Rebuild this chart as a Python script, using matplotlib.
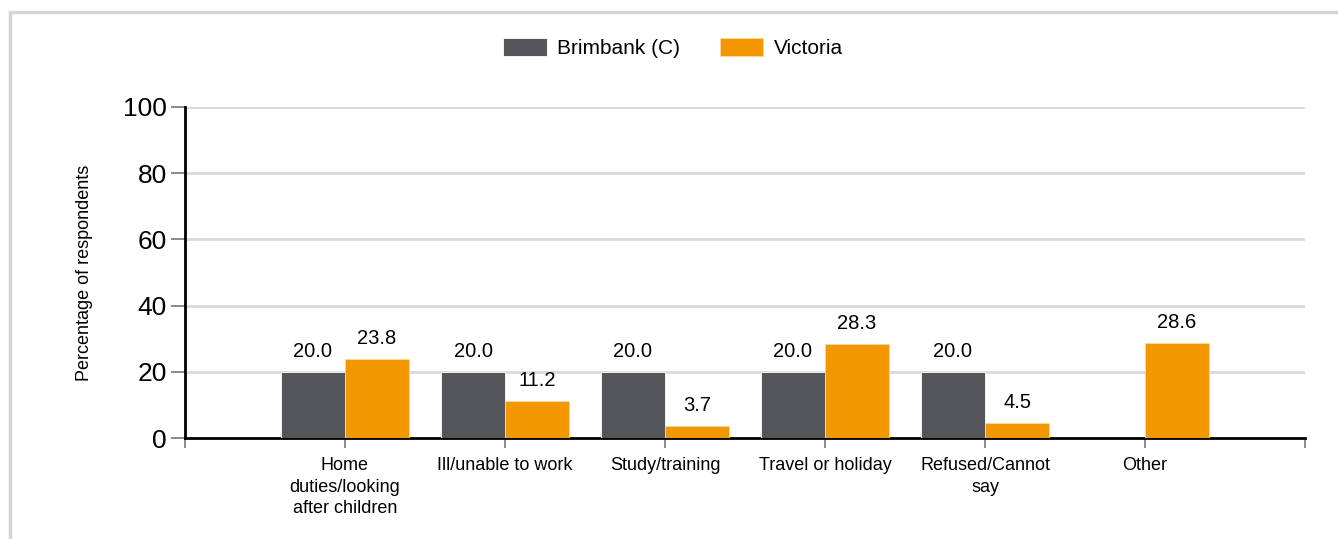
import matplotlib.pyplot as plt
from matplotlib.patches import Rectangle
import numpy as np

plt.rcParams['font.family'] = ['Liberation Sans', 'DejaVu Sans']

# Data
categories = ['Home\nduties/looking\nafter children', 'Ill/unable to work', 'Study/training',
              'Travel or holiday', 'Refused/Cannot\nsay', 'Other']
brimbank = [20.0, 20.0, 20.0, 20.0, 20.0, None]
victoria = [23.8, 11.2, 3.7, 28.3, 4.5, 28.6]

dark = '#54565a'
orange = '#f39700'


def main():
    fig = plt.figure(figsize=(13.38, 5.39), dpi=100)
    W, H = 1338, 539
    ax = fig.add_axes([185 / W, 1 - 438 / H, 1120 / W, 331 / H])

    # light frame round the figure
    fig.patches.append(Rectangle((10 / W, -0.05), 1.2, 1 - 12 / H + 0.05, transform=fig.transFigure,
                                 fill=False, edgecolor='#d4d4d4', linewidth=2.5))

    x = np.arange(1, len(categories) + 1)
    w = 0.4
    bx = [xi - w / 2 for xi, v in zip(x, brimbank) if v is not None]
    bv = [v for v in brimbank if v is not None]
    b1 = ax.bar(bx, bv, w, color=dark, edgecolor='white', linewidth=0.6, label='Brimbank (C)', zorder=3)
    b2 = ax.bar(x + w / 2, victoria, w, color=orange, edgecolor='#fbd9a0', linewidth=0.6, label='Victoria', zorder=3)

    for bars in (b1, b2):
        for r in bars:
            ax.annotate('%.1f' % r.get_height(), (r.get_x() + r.get_width() / 2, r.get_height()),
                        xytext=(0, 8), textcoords='offset points', ha='center', va='bottom', fontsize=14.5)

    ax.set_xlim(0, 7)
    ax.set_ylim(0, 100)
    ax.set_yticks([0, 20, 40, 60, 80, 100])
    ax.set_xticks(range(0, 8))
    ax.set_xticklabels([''] + categories + [''], fontsize=13, linespacing=1.32, va='top')
    ax.tick_params(axis='y', labelsize=19, length=10, color='#777777', width=1.2, pad=3)
    ax.tick_params(axis='x', length=7, color='#777777', width=1.2, pad=7)
    ax.grid(axis='y', color='#d9d9d9', linewidth=2, zorder=0)
    ax.set_axisbelow(True)
    for s in ['top', 'right']:
        ax.spines[s].set_visible(False)
    ax.spines['left'].set_linewidth(2)
    ax.spines['bottom'].set_linewidth(2)
    ax.set_ylabel('Percentage of respondents', fontsize=13, labelpad=22)

    fig.legend(handles=[b1, b2], loc='center', bbox_to_anchor=(673 / W, 1 - 48 / H), ncol=2,
               frameon=False, fontsize=15, handlelength=2.1, handleheight=0.95, columnspacing=1.9,
               handletextpad=0.5)

    fig.savefig('out.png', dpi=100)


if __name__ == '__main__':
    main()
